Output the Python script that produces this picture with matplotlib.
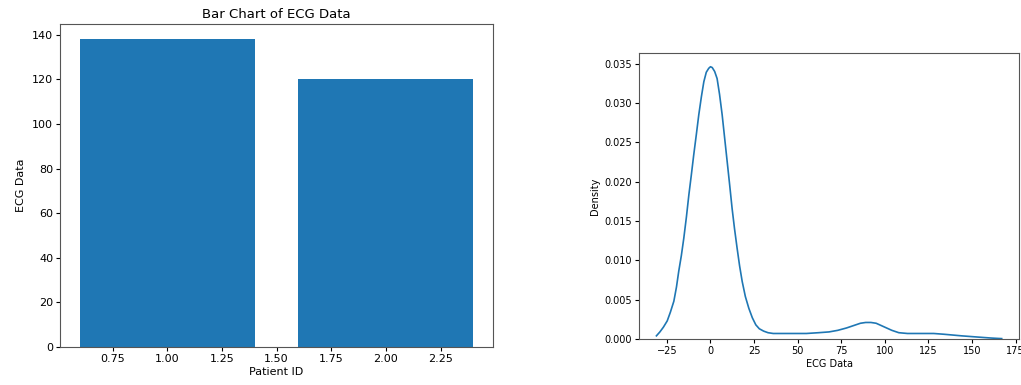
import matplotlib
matplotlib.use("Agg")
import matplotlib.pyplot as plt

# Bar chart data
patient_ids = [1, 2]
ecg_values = [138, 120]

# KDE curve (x in ECG units, density)
kde_x = [-31, -29, -27, -24.8, -23, -21, -19.5, -18.2, -16.7, -15.3, -13.8, -12.4,
         -11, -9.6, -8.1, -6.7, -5.2, -3.8, -2.4, -1, 0, 1, 2.4, 3.8, 5.2, 6.7,
         8.1, 9.6, 11, 12.4, 13.8, 15.3, 16.7, 18.2, 20, 22, 24, 26, 28, 30.5,
         33, 36, 40, 45, 55, 62, 68, 73, 78, 82, 86, 89, 92, 95, 98, 101, 104,
         108, 113, 120, 128, 134, 139, 144, 150, 156, 161, 165, 167]
kde_y = [0.0004, 0.0009, 0.0015, 0.0023, 0.0034, 0.0048, 0.0066, 0.0086, 0.0106,
         0.0128, 0.0155, 0.0183, 0.0208, 0.0234, 0.0260, 0.0285, 0.0308, 0.0327,
         0.0339, 0.0344, 0.0346, 0.0345, 0.0340, 0.0331, 0.0311, 0.0285, 0.0256,
         0.0225, 0.0196, 0.0166, 0.0140, 0.0115, 0.0093, 0.0073, 0.0054, 0.0039,
         0.0027, 0.0018, 0.0013, 0.0010, 0.0008, 0.0007, 0.0007, 0.0007, 0.0007,
         0.0008, 0.0009, 0.0011, 0.0014, 0.0017, 0.0020, 0.0021, 0.0021, 0.0020,
         0.0017, 0.0014, 0.0011, 0.0008, 0.0007, 0.0007, 0.0007, 0.0006, 0.0005,
         0.0004, 0.0003, 0.0002, 0.00012, 0.00007, 0.00005]

fig = plt.figure(figsize=(10.21, 3.85), dpi=100)

ax1 = fig.add_axes([0.0588, 0.0987, 0.4242, 0.839])
ax1.bar(patient_ids, ecg_values, color="#1f77b4")
ax1.set_title("Bar Chart of ECG Data", fontsize=9.5, pad=4)
ax1.set_xlabel("Patient ID", fontsize=8, labelpad=2)
ax1.set_ylabel("ECG Data", fontsize=8, labelpad=4)
ax1.tick_params(labelsize=8, length=3, pad=2)

ax2 = fig.add_axes([0.626, 0.1195, 0.372, 0.7425])
ax2.plot(kde_x, kde_y, color="#1f77b4", lw=1.2)
ax2.set_ylim(0, max(kde_y) * 1.05)
ax2.set_xlabel("ECG Data", fontsize=7, labelpad=2)
ax2.set_ylabel("Density", fontsize=7, labelpad=3)
ax2.tick_params(labelsize=7, length=3, pad=2)
ax2.set_xticks([-25, 0, 25, 50, 75, 100, 125, 150, 175])
ax2.set_xlim(-40.9, 176.9)

for ax in (ax1, ax2):
    for s in ax.spines.values():
        s.set_color("#555555")

fig.savefig("out.png", dpi=100)
